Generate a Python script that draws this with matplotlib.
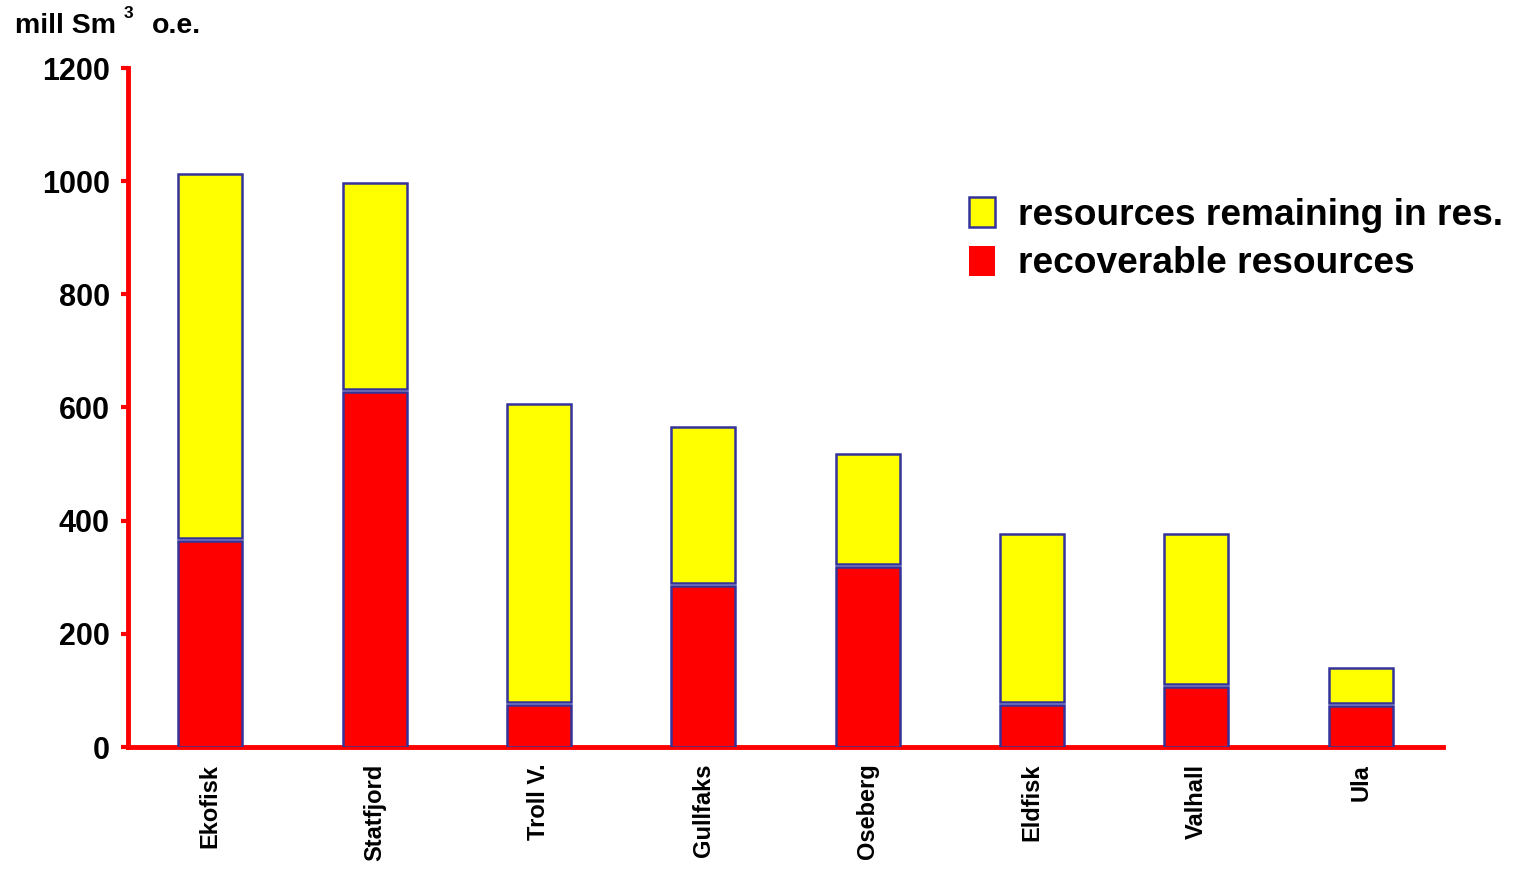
import matplotlib
matplotlib.use("Agg")
import matplotlib.pyplot as plt
from matplotlib.patches import Patch
import numpy as np

plt.rcParams['font.family'] = ['Liberation Sans', 'DejaVu Sans']
plt.rcParams['font.weight'] = 'bold'

fields = ["Ekofisk", "Statfjord", "Troll V.", "Gullfaks", "Oseberg", "Eldfisk", "Valhall", "Ula"]
recoverable = [364, 627, 74, 284, 318, 74, 106, 72]
total = [1012, 996, 606, 565, 518, 376, 376, 140]
remaining = [t - r for t, r in zip(total, recoverable)]
yticks = [0, 200, 400, 600, 800, 1000, 1200]

RED = '#ff0000'
YELLOW = '#ffff00'
EDGE = '#33339a'
GAP = 5  # visual gap between stacked segments (style)

fig = plt.figure(figsize=(15.15, 8.71), dpi=100)
ax = fig.add_axes([128/1515, 1-747/871, (1443-128)/1515, (747-68)/871])

x = np.arange(len(fields))
w = 0.39
ax.bar(x, recoverable, width=w, color=RED, edgecolor=EDGE, linewidth=1.8, zorder=3)
ax.bar(x, [r - GAP for r in remaining], bottom=[r + GAP for r in recoverable], width=w,
       color=YELLOW, edgecolor=EDGE, linewidth=1.8, zorder=3)

ax.set_xlim(-0.5, len(fields) - 0.5)
ax.set_ylim(0, 1200)
ax.set_yticks(yticks)
ax.set_yticklabels([str(v) for v in yticks], fontsize=22, fontweight='bold')
ax.set_xticks(x)
ax.set_xticklabels(fields, rotation=90, fontsize=17, fontweight='bold', va='top')
ax.tick_params(axis='x', length=0, pad=12)
ax.tick_params(axis='y', length=5, width=3, color=RED, pad=8, direction='out')

for s in ['top', 'right']:
    ax.spines[s].set_visible(False)
for s in ['left', 'bottom']:
    ax.spines[s].set_color(RED)
    ax.spines[s].set_linewidth(3.5)

fig.text(15/1515, 1-33/871, "mill Sm", fontsize=20.5, fontweight='bold', va='baseline', ha='left')
fig.text(124/1515, 1-18/871, "3", fontsize=12.5, fontweight='bold', va='baseline', ha='left')
fig.text(152/1515, 1-33/871, "o.e.", fontsize=20.5, fontweight='bold', va='baseline', ha='left')

handles = [Patch(facecolor=YELLOW, edgecolor=EDGE, linewidth=1.8, label='resources remaining in res.'),
           Patch(facecolor=RED, edgecolor=RED, linewidth=0, label='recoverable resources')]
leg = fig.legend(handles=handles, loc='upper left', bbox_to_anchor=(969/1515, 1-197/871),
                 frameon=False, prop={'size': 26.7, 'weight': 'bold'},
                 handlelength=0.7, handleheight=0.86, handletextpad=0.62,
                 labelspacing=0.35, borderpad=0, borderaxespad=0)

fig.savefig("out.png", dpi=100)
